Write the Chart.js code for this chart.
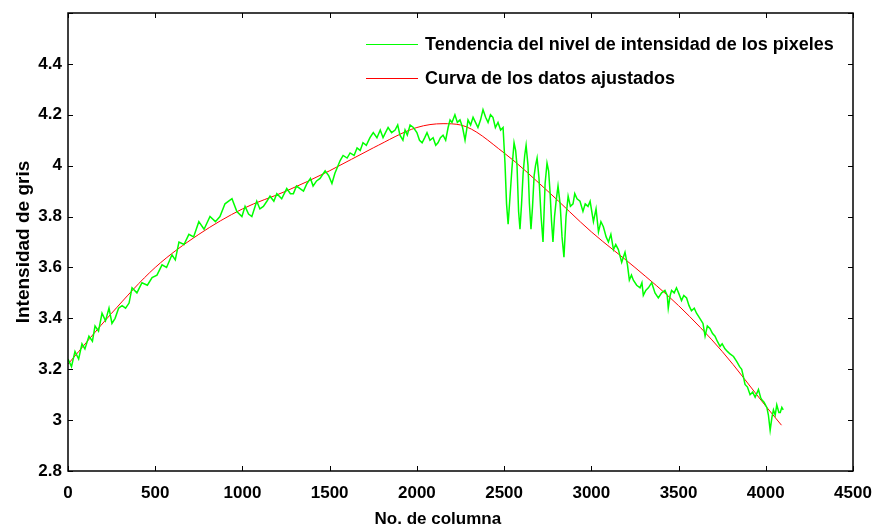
<!DOCTYPE html>
<html>
<head>
<meta charset="utf-8">
<script src="https://cdn.jsdelivr.net/npm/chart.js@4.4.0/dist/chart.umd.min.js"></script>
<style>
    html, body { margin: 0; padding: 0; background: #fff; }
    #wrap { width: 873px; height: 531px; }
</style>
</head>
<body>
<div id="wrap"><canvas id="lineChart" width="873" height="531"></canvas></div>
<script>
/* ======= Data ======= */
const xTicks = [0, 500, 1000, 1500, 2000, 2500, 3000, 3500, 4000, 4500];
const yTicks = [2.8, 3, 3.2, 3.4, 3.6, 3.8, 4, 4.2, 4.4, 4.6];

const xTitle = 'No. de columna';
const yTitle = 'Intensidad de gris';

const greenLabel = 'Tendencia del nivel de intensidad de los pixeles';
const greenCols = [
    0, 20, 40, 61, 80, 97, 120, 140, 155, 175, 195, 215, 235, 252, 270, 290, 310, 330, 350, 367,
    395, 424, 455, 482, 510, 539, 565, 596, 615, 636, 665, 693, 720, 750, 780, 814, 845, 871, 900, 940,
    968, 997, 1015, 1035, 1054, 1082, 1100, 1120, 1140, 1158, 1180, 1197, 1225, 1254, 1275, 1292, 1310, 1330, 1350, 1370,
    1390, 1405, 1425, 1445, 1474, 1495, 1513, 1530, 1542, 1560, 1577, 1600, 1617, 1640, 1657, 1675, 1691, 1710, 1731, 1750,
    1771, 1790, 1806, 1820, 1835, 1855, 1875, 1890, 1903, 1920, 1932, 1945, 1961, 1980, 2000, 2015, 2030, 2045, 2058, 2075,
    2093, 2108, 2121, 2135, 2150, 2165, 2179, 2190, 2201, 2218, 2232, 2247, 2262, 2276, 2285, 2293, 2308, 2322, 2336, 2350,
    2365, 2379, 2394, 2408, 2422, 2436, 2450, 2465, 2480, 2494, 2505, 2514, 2523, 2534, 2545, 2557, 2566, 2574, 2583, 2591,
    2600, 2609, 2618, 2626, 2637, 2645, 2654, 2663, 2672, 2680, 2689, 2700, 2712, 2723, 2735, 2746, 2755, 2763, 2772, 2780,
    2789, 2798, 2809, 2821, 2832, 2843, 2855, 2867, 2880, 2895, 2905, 2918, 2935, 2952, 2965, 2981, 2993, 3012, 3027, 3041,
    3055, 3069, 3085, 3098, 3112, 3127, 3140, 3155, 3174, 3193, 3207, 3218, 3230, 3241, 3260, 3279, 3290, 3298, 3312, 3327,
    3346, 3365, 3384, 3403, 3422, 3435, 3441, 3452, 3460, 3475, 3488, 3500, 3517, 3530, 3546, 3560, 3574, 3590, 3603, 3622,
    3640, 3652, 3665, 3680, 3695, 3709, 3722, 3738, 3750, 3766, 3780, 3795, 3815, 3834, 3850, 3862, 3872, 3881, 3895, 3910,
    3925, 3939, 3958, 3970, 3977, 3990, 4006, 4015, 4025, 4035, 4044, 4054, 4063, 4075, 4083, 4092, 4100
];
const greenVals = [
    3.24, 3.21, 3.27, 3.24, 3.30, 3.28, 3.33, 3.31, 3.37, 3.35, 3.42, 3.39, 3.44, 3.38, 3.40, 3.44, 3.45, 3.44, 3.46, 3.52,
    3.50, 3.54, 3.53, 3.56, 3.57, 3.61, 3.60, 3.65, 3.63, 3.70, 3.69, 3.73, 3.72, 3.78, 3.75, 3.80, 3.78, 3.80, 3.85, 3.87,
    3.82, 3.80, 3.84, 3.81, 3.80, 3.86, 3.83, 3.84, 3.86, 3.88, 3.86, 3.89, 3.87, 3.91, 3.89, 3.89, 3.92, 3.91, 3.90, 3.93,
    3.95, 3.92, 3.94, 3.95, 3.98, 3.96, 3.93, 3.97, 3.99, 4.02, 4.04, 4.03, 4.05, 4.04, 4.07, 4.06, 4.09, 4.08, 4.11, 4.13,
    4.11, 4.14, 4.11, 4.13, 4.15, 4.13, 4.14, 4.16, 4.12, 4.10, 4.14, 4.12, 4.16, 4.15, 4.13, 4.10, 4.09, 4.11, 4.13, 4.10,
    4.11, 4.08, 4.09, 4.11, 4.12, 4.10, 4.15, 4.18, 4.17, 4.20, 4.17, 4.18, 4.15, 4.10, 4.14, 4.18, 4.16, 4.19, 4.17, 4.15,
    4.18, 4.22, 4.19, 4.17, 4.20, 4.19, 4.15, 4.17, 4.14, 4.15, 4.01, 3.85, 3.77, 3.88, 3.99, 4.09, 4.06, 4.00, 3.82, 3.75,
    3.85, 3.97, 4.04, 4.08, 4.00, 3.85, 3.75, 3.84, 3.96, 4.00, 4.03, 3.95, 3.80, 3.70, 3.93, 4.01, 3.98, 3.90, 3.78, 3.70,
    3.80, 3.86, 3.92, 3.85, 3.72, 3.64, 3.80, 3.88, 3.84, 3.85, 3.89, 3.87, 3.86, 3.82, 3.85, 3.84, 3.86, 3.78, 3.83, 3.74,
    3.78, 3.76, 3.72, 3.70, 3.73, 3.67, 3.69, 3.67, 3.62, 3.66, 3.61, 3.55, 3.57, 3.55, 3.53, 3.52, 3.54, 3.49, 3.51, 3.52,
    3.54, 3.50, 3.48, 3.50, 3.51, 3.49, 3.44, 3.49, 3.51, 3.50, 3.52, 3.50, 3.47, 3.49, 3.48, 3.45, 3.43, 3.44, 3.42, 3.40,
    3.38, 3.33, 3.37, 3.36, 3.34, 3.33, 3.31, 3.29, 3.30, 3.28, 3.27, 3.26, 3.25, 3.23, 3.21, 3.20, 3.17, 3.14, 3.13, 3.10,
    3.11, 3.09, 3.12, 3.09, 3.08, 3.07, 3.05, 3.02, 2.96, 3.01, 3.04, 3.02, 3.06, 3.03, 3.03, 3.05, 3.04
];

const redLabel = 'Curva de los datos ajustados';
const redCols = [0, 250, 500, 750, 1000, 1250, 1500, 1750, 2000, 2150, 2250, 2500, 2750, 3000, 3250, 3500, 3750, 4000, 4090];
const redVals = [3.22, 3.42, 3.60, 3.73, 3.83, 3.90, 3.98, 4.07, 4.15, 4.165, 4.16, 4.05, 3.90, 3.74, 3.60, 3.45, 3.27, 3.055, 2.98];

const toPoints = (cols, vals) => cols.map((c, i) => ({ x: c, y: vals[i] }));

const boldFont = "'Liberation Sans', Arial, sans-serif";

/* ======= Inward ticks and box, like the original plot ======= */
const boxAxes = {
    id: 'boxAxes',
    afterDatasetsDraw(chart) {
        const { ctx, chartArea: a, scales: { x, y } } = chart;
        const len = 5;
        ctx.save();
        ctx.strokeStyle = '#000';
        ctx.lineWidth = 1;
        ctx.beginPath();
        x.ticks.forEach(function (t) {
            const px = Math.round(x.getPixelForValue(t.value)) + 0.5;
            ctx.moveTo(px, a.bottom); ctx.lineTo(px, a.bottom - len);
            ctx.moveTo(px, a.top); ctx.lineTo(px, a.top + len);
        });
        y.ticks.forEach(function (t) {
            const py = Math.round(y.getPixelForValue(t.value)) + 0.5;
            ctx.moveTo(a.left, py); ctx.lineTo(a.left + len, py);
            ctx.moveTo(a.right, py); ctx.lineTo(a.right - len, py);
        });
        ctx.stroke();
        ctx.lineWidth = 1.5;
        ctx.strokeRect(a.left, a.top, a.right - a.left, a.bottom - a.top);
        ctx.restore();
    }
};

/* ======= Legend without box + x title (sits a bit left of centre in the original) ======= */
const plainLegend = {
    id: 'plainLegend',
    afterDraw(chart) {
        const { ctx } = chart;
        ctx.save();
        ctx.font = 'bold 18px ' + boldFont;
        ctx.textBaseline = 'middle';
        ctx.textAlign = 'left';
        chart.data.datasets.forEach(function (ds, i) {
            const yy = 44 + i * 34;
            ctx.strokeStyle = ds.borderColor;
            ctx.lineWidth = 1;
            ctx.beginPath();
            ctx.moveTo(366, yy + 0.5);
            ctx.lineTo(418, yy + 0.5);
            ctx.stroke();
            ctx.fillStyle = '#000';
            ctx.fillText(ds.label, 425, yy + 1);
        });

        ctx.font = 'bold 17px ' + boldFont;
        ctx.textAlign = 'center';
        ctx.fillText(xTitle, chart.scales.x.getPixelForValue(2120), 519);
        ctx.restore();
    }
};

const ctx = document.getElementById('lineChart');
const chart = new Chart(ctx, {
    type: 'line',
    data: {
        datasets: [
            {
                label: greenLabel,
                data: toPoints(greenCols, greenVals),
                borderColor: '#00ff00',
                borderWidth: 1.5,
                pointRadius: 0,
                tension: 0,
                fill: false,
            },
            {
                label: redLabel,
                data: toPoints(redCols, redVals),
                borderColor: '#ff0000',
                borderWidth: 1,
                pointRadius: 0,
                cubicInterpolationMode: 'monotone',
                fill: false,
            },
        ],
    },
    options: {
        responsive: false,
        animation: false,
        devicePixelRatio: 1,
        layout: {
            padding: { left: 0, right: 20, top: 13, bottom: 0 },
        },
        plugins: {
            legend: { display: false },
            tooltip: { enabled: false },
        },
        scales: {
            x: {
                type: 'linear',
                min: 0,
                max: 4500,
                afterBuildTicks(scale) {
                    scale.ticks = xTicks.map(v => ({ value: v }));
                },
                afterFit(scale) {
                    scale.height = 60;
                    scale.paddingLeft = 0;
                    scale.paddingRight = 0;
                },
                grid: { display: false, drawTicks: false },
                border: { display: false },
                ticks: {
                    color: '#000',
                    padding: 12,
                    maxRotation: 0,
                    font: { family: boldFont, size: 17, weight: 'bold' },
                    callback(value) {
                        return String(value);
                    },
                },
            },
            y: {
                min: 2.8,
                max: 4.6,
                afterBuildTicks(scale) {
                    scale.ticks = yTicks.map(v => ({ value: v }));
                },
                afterFit(scale) {
                    scale.width = 68;
                    scale.paddingTop = 0;
                    scale.paddingBottom = 0;
                },
                grid: { display: false, drawTicks: false },
                border: { display: false },
                ticks: {
                    color: '#000',
                    padding: 6,
                    font: { family: boldFont, size: 17, weight: 'bold' },
                    callback(value) {
                        if (value >= 4.59) {
                            return '';
                        }
                        return String(Math.round(value * 10) / 10);
                    },
                },
                title: {
                    display: true,
                    text: yTitle,
                    color: '#000',
                    padding: { top: 12, bottom: 0 },
                    font: { family: boldFont, size: 19, weight: 'bold' },
                },
            },
        },
    },
    plugins: [boxAxes, plainLegend],
});
</script>
</body>
</html>
